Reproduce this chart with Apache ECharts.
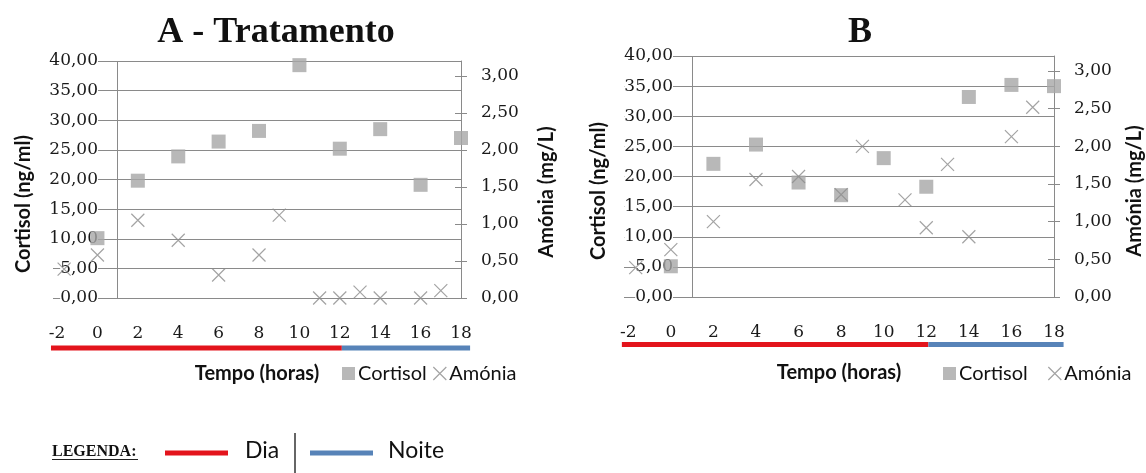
<!DOCTYPE html>
<html>
<head>
<meta charset="utf-8">
<script src="https://cdn.jsdelivr.net/npm/echarts@6/dist/echarts.min.js"></script>
<style>
  html, body { margin: 0; padding: 0; background: #fff; }
  #chart { width: 1146px; height: 473px; }
</style>
</head>
<body>
<div id="chart"></div>
<script>
// Sampling times (hours)
const cortisolTimes = [0, 2, 4, 6, 8, 10, 12, 14, 16, 18];
const ammoniaTimes = [-1.65, 0, 2, 4, 6, 8, 9, 11, 12, 13, 14, 16, 17];

// Panel A - Tratamento
const cortisolA = [10.1, 19.8, 23.9, 26.4, 28.2, 39.3, 25.2, 28.5, 19.1, 27.0];
const ammoniaA = [0.39, 0.58, 1.05, 0.78, 0.31, 0.58, 1.12, 0, 0, 0.08, 0, 0, 0.1];

// Panel B
const cortisolB = [5.1, 22.1, 25.3, 19.0, 16.9, 23.05, 18.3, 33.2, 35.2, 35.0];
const ammoniaB = [0.39, 0.63, 1.0, 1.56, 1.6, 1.36, 2.0, 1.29, 0.92, 1.76, 0.8, 2.13, 2.52];

// Tick labels
const timeTicks = [-2, 0, 2, 4, 6, 8, 10, 12, 14, 16, 18];
const ammoniaTicks = [0, 0.5, 1, 1.5, 2, 2.5, 3];

// Day / night periods shown under the time axis (hours)
const dayPeriod = [-2.3, 12.1];
const nightPeriod = [12.1, 18.45];

const GRID = '#8a8a8a';
const GREY = '#a6a6a6';
const CROSS = '#8c8c8c';
const RED = '#e3141c';
const BLUE = '#5783b8';
const NUM_FONT = 'DejaVu Serif';
const SANS = 'Lato';
const crossPath = 'path://M0,0L10,10M10,0L0,10';

const fmt = v => v.toFixed(2).replace('.', ',');
const zip = (xs, ys) => xs.map((x, i) => [x, ys[i]]);

const panels = [
  { grid: { left: 53, right: 685, top: 61, bottom: 175 }, labelShift: 45,
    cortisol: cortisolA, ammonia: ammoniaA, barY: 348,
    legendLeft: 342, legendGap: 4 },
  { grid: { left: 624, right: 92, top: 56, bottom: 176 }, labelShift: 49,
    cortisol: cortisolB, ammonia: ammoniaB, barY: 344.5,
    legendLeft: 943, legendGap: 18 }
];

const option = {
  backgroundColor: '#fff',
  animation: false,
  grid: panels.map(p => Object.assign({ containLabel: false }, p.grid)),
  xAxis: panels.map((p, i) => ({
    gridIndex: i, type: 'value', min: -2.2, max: 18,
    axisLine: { show: false }, axisTick: { show: false }, splitLine: { show: false },
    axisLabel: {
      customValues: timeTicks, margin: 27,
      fontFamily: NUM_FONT, fontSize: 17, color: '#1a1a1a',
      formatter: v => String(v)
    },
    name: 'Tempo (horas)', nameLocation: 'middle', nameGap: 66,
    nameTextStyle: { fontFamily: SANS, fontWeight: 'bold', fontSize: 20, color: '#111' }
  })),
  yAxis: [],
  legend: panels.map(p => ({
    left: p.legendLeft, top: 363, padding: 0, itemWidth: 13, itemHeight: 13, itemGap: p.legendGap,
    textStyle: { fontFamily: SANS, fontSize: 20, lineHeight: 21, color: '#111', padding: [0, 0, 0, -2] },
    data: [
      { name: 'Cortisol', icon: 'rect', itemStyle: { color: GREY } },
      { name: 'Amónia', icon: crossPath,
        itemStyle: { color: 'none', borderColor: CROSS, borderWidth: 1.2 } }
    ]
  })),
  series: []
};

panels.forEach((p, i) => {
  const base = option.yAxis.length;
  // Cortisol axis (left) with gridlines
  option.yAxis.push({
    gridIndex: i, type: 'value', min: 0, max: 40, interval: 5, position: 'left',
    axisLine: { show: false }, axisTick: { show: false },
    splitLine: { lineStyle: { color: GRID, width: 1 } },
    axisLabel: {
      margin: -p.labelShift, fontFamily: NUM_FONT, fontSize: 17, color: '#1a1a1a',
      backgroundColor: '#fff', padding: [1, 0], formatter: fmt
    }
  });
  // Ammonia axis (right)
  option.yAxis.push({
    gridIndex: i, type: 'value', min: 0, max: 3.2, position: 'right',
    splitLine: { show: false },
    axisLine: { show: true, lineStyle: { color: GRID, width: 1 } },
    axisTick: { show: true, length: 6, customValues: ammoniaTicks, lineStyle: { color: GRID } },
    axisLabel: {
      customValues: ammoniaTicks, margin: 20, fontFamily: NUM_FONT, fontSize: 17,
      color: '#1a1a1a', formatter: fmt
    }
  });
  // Inner half of the crossing ticks on the ammonia axis
  option.yAxis.push({
    gridIndex: i, type: 'value', min: 0, max: 3.2, position: 'right',
    splitLine: { show: false }, axisLine: { show: false },
    axisTick: { show: true, inside: true, length: 6, customValues: ammoniaTicks, lineStyle: { color: GRID } },
    axisLabel: { show: false }
  });

  option.series.push({
    name: 'Cortisol', type: 'scatter', xAxisIndex: i, yAxisIndex: base,
    symbol: 'rect', symbolSize: 14, itemStyle: { color: GREY },
    data: zip(cortisolTimes, p.cortisol), z: 3,
    markLine: {
      silent: true, symbol: ['none', 'none'], label: { show: false },
      lineStyle: { color: GRID, type: 'solid', width: 1 },
      data: [{ xAxis: 1 }]
    }
  });
  option.series.push({
    name: 'Amónia', type: 'scatter', xAxisIndex: i, yAxisIndex: base + 1,
    symbol: crossPath, symbolSize: 13,
    itemStyle: { color: 'none', borderColor: CROSS, borderWidth: 1.2 },
    data: zip(ammoniaTimes, p.ammonia), z: 4
  });
});

const chart = echarts.init(document.getElementById('chart'), null, { renderer: 'canvas' });
chart.setOption(option);

function txt(x, y, text, font, extra) {
  return {
    type: 'text', x: x, y: y, silent: true,
    style: Object.assign({ text: text, font: font, fill: '#111',
      align: 'center', verticalAlign: 'middle', textAlign: 'center', textVerticalAlign: 'middle' }, extra || {})
  };
}
const vertical = el => Object.assign(el, { rotation: Math.PI / 2 });

const graphics = [
  txt(276, 33, 'A - Tratamento', 'bold 36px "Liberation Serif"'),
  txt(860, 33, 'B', 'bold 36px "Liberation Serif"'),
  vertical(txt(24, 204, 'Cortisol (ng/ml)', 'bold 20px Lato')),
  vertical(txt(547, 192, 'Amónia (mg/L)', 'bold 20px Lato')),
  vertical(txt(599, 191, 'Cortisol (ng/ml)', 'bold 20px Lato')),
  vertical(txt(1135, 191, 'Amónia (mg/L)', 'bold 20px Lato')),
  // footer key for the day / night bars
  txt(52, 452, 'LEGENDA:', 'bold 16px "Liberation Serif"', { align: 'left', textAlign: 'left' }),
  { type: 'line', silent: true, shape: { x1: 52, y1: 459.5, x2: 138, y2: 459.5 }, style: { stroke: '#222', lineWidth: 1 } },
  { type: 'rect', silent: true, shape: { x: 165, y: 450.5, width: 63, height: 5 }, style: { fill: RED } },
  txt(245, 451, 'Dia', '23px Lato', { align: 'left', textAlign: 'left' }),
  { type: 'line', silent: true, shape: { x1: 295, y1: 433, x2: 295, y2: 473 }, style: { stroke: '#333', lineWidth: 1.5 } },
  { type: 'rect', silent: true, shape: { x: 310, y: 450.5, width: 63, height: 5 }, style: { fill: BLUE } },
  txt(388, 451, 'Noite', '23px Lato', { align: 'left', textAlign: 'left' })
];

// Day / night bars placed on each panel's time scale
panels.forEach((p, i) => {
  const px = t => chart.convertToPixel({ xAxisIndex: i }, t);
  [[dayPeriod, RED], [nightPeriod, BLUE]].forEach(([range, color]) => {
    const x0 = px(range[0]), x1 = px(range[1]);
    graphics.push({ type: 'rect', silent: true,
      shape: { x: x0, y: p.barY - 2.5, width: x1 - x0, height: 5 }, style: { fill: color } });
  });
});

chart.setOption({ graphic: graphics });
</script>
</body>
</html>
